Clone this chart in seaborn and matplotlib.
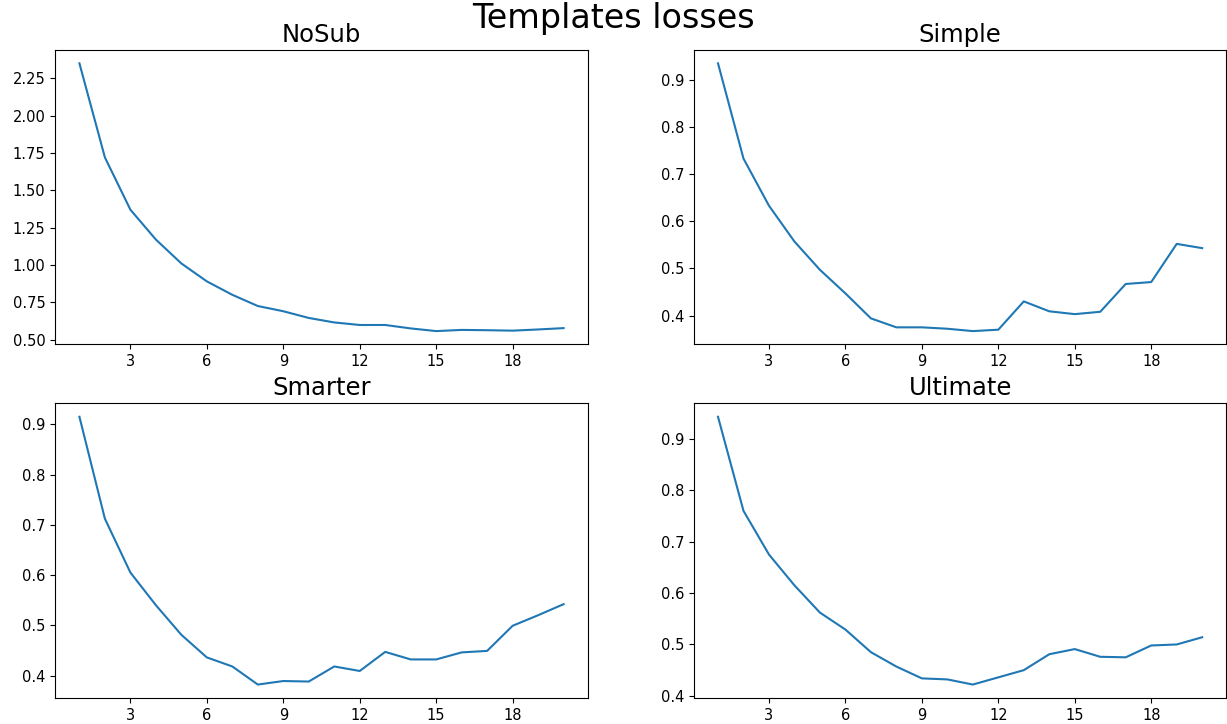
import numpy as np
import pandas as pd
import matplotlib
matplotlib.use("Agg")
import matplotlib.pyplot as plt
import seaborn as sns

# loss per epoch for each template
epochs = list(range(1, 21))
nosub = [2.35, 1.72, 1.37, 1.17, 1.01, 0.89, 0.80, 0.725, 0.69, 0.645,
         0.615, 0.598, 0.598, 0.575, 0.557, 0.565, 0.563, 0.560, 0.568, 0.577]
simple = [0.935, 0.733, 0.633, 0.557, 0.497, 0.447, 0.394, 0.375, 0.375, 0.372,
          0.367, 0.370, 0.430, 0.409, 0.403, 0.408, 0.467, 0.471, 0.552, 0.543]
smarter = [0.915, 0.712, 0.605, 0.540, 0.481, 0.436, 0.418, 0.382, 0.389, 0.388,
           0.418, 0.409, 0.447, 0.432, 0.432, 0.446, 0.449, 0.499, 0.520, 0.542]
ultimate = [0.943, 0.760, 0.675, 0.615, 0.562, 0.529, 0.485, 0.457, 0.434, 0.432,
            0.422, 0.436, 0.450, 0.481, 0.491, 0.476, 0.475, 0.498, 0.500, 0.514]
titles = ['NoSub', 'Simple', 'Smarter', 'Ultimate']
xticks = [3, 6, 9, 12, 15, 18]

fig, axes = plt.subplots(2, 2, figsize=(12.27, 7.24), dpi=100)
plt.subplots_adjust(left=0.045, right=0.9995, top=0.931, bottom=0.036,
                    wspace=0.199, hspace=0.2)

for ax, title, losses in zip(axes.flat, titles, [nosub, simple, smarter, ultimate]):
    df = pd.DataFrame({'epoch': epochs, 'loss': losses})
    sns.lineplot(data=df, x='epoch', y='loss', ax=ax, color='#1f77b4', linewidth=1.5)
    ax.set_title(title, fontsize=17.5)
    ax.set_xticks(xticks)
    ax.set_xlabel('')
    ax.set_ylabel('')
    ax.tick_params(labelsize=10.5)

fig.suptitle('Templates losses', fontsize=24, y=0.997, va='top')
plt.savefig('out.png')
plt.close()
